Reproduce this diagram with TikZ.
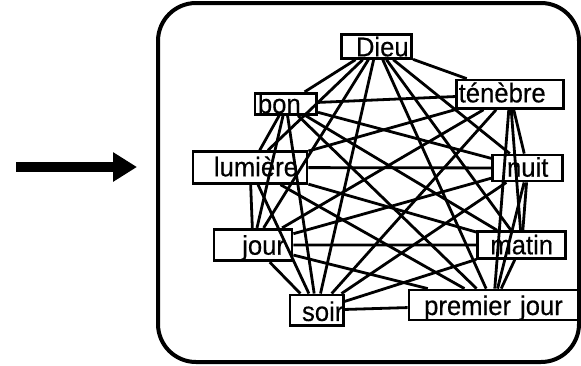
\documentclass[tikz,border=0pt]{standalone}
\usepackage{fontspec}
\setmainfont{Liberation Sans}[FakeStretch=0.95, FakeBold=0.4]
\usetikzlibrary{arrows.meta}

\begin{document}
\begin{tikzpicture}[x=1pt, y=-1pt, font=\fontsize{27}{30}\selectfont,
  wordbox/.style = {draw, line width=2.8pt, inner ysep=0pt},
  framebox/.style = {draw, line width=4pt, rounded corners=38pt},
  edge/.style = {line width=2.8pt},
  bigarrow/.style = {-{Triangle[length=24pt, width=28pt]}, line width=10.5pt}
]
\useasboundingbox (0,0) rectangle (581,365);
\node[framebox, minimum width=421pt, minimum height=359pt] (frame) at (368.5,182.5) {};
\coordinate (tail) at (16,167);
\coordinate (tip) at (137,167);
\draw[bigarrow] (tail) -- (tip);
% words
\node[wordbox, text width=64pt, inner xsep=3pt, text height=22pt, text depth=2pt, align=right] (dieu) at (376.7,46.3) {Dieu};
\node[wordbox, text width=102.6pt, inner xsep=2pt, text height=22.3pt, text depth=6pt, align=left] (tenebre) at (510,94.2) {ténèbre};
\node[wordbox, text width=55.7pt, inner xsep=3pt, text height=20pt, text depth=1pt, align=left] (bon) at (285.8,103.8) {bon};
\node[wordbox, text width=96pt, inner xsep=9pt, text height=24.6pt, text depth=7pt, align=right] (lumiere) at (250,167.5) {lumière};
\node[wordbox, text width=66pt, inner xsep=2pt, text height=21.7pt, text depth=4.3pt, align=center] (nuit) at (527.7,168) {nuit};
\node[wordbox, text width=64pt, inner xsep=7pt, text height=25.4pt, text depth=6pt, align=right] (jour) at (253,245) {jour};
\node[wordbox, text width=84pt, inner xsep=2pt, text height=22.6pt, text depth=4pt, align=center] (matin) at (521.7,245) {matin};
\node[wordbox, text width=53.3pt, inner xsep=0pt, text height=26pt, text depth=4.7pt, align=right] (soir) at (316.7,310.3) {soir};
\node[wordbox, text width=165pt, inner xsep=2pt, text height=25pt, text depth=5pt, align=center] (premier) at (493.5,305) {premier jour};
% every word linked to every other
\draw[edge] (dieu) -- (tenebre) (dieu) -- (bon) (dieu) -- (lumiere) (dieu) -- (nuit)
  (dieu) -- (jour) (dieu) -- (matin) (dieu) -- (soir) (dieu) -- (premier);
\draw[edge] (tenebre) -- (bon) (tenebre) -- (lumiere) (tenebre) -- (nuit) (tenebre) -- (jour)
  (tenebre) -- (matin) (tenebre) -- (soir) (tenebre) -- (premier);
\draw[edge] (bon) -- (lumiere) (bon) -- (nuit) (bon) -- (jour) (bon) -- (matin)
  (bon) -- (soir) (bon) -- (premier);
\draw[edge] (lumiere) -- (nuit) (lumiere) -- (jour) (lumiere) -- (matin) (lumiere) -- (soir)
  (lumiere) -- (premier);
\draw[edge] (nuit) -- (jour) (nuit) -- (matin) (nuit) -- (soir) (nuit) -- (premier);
\draw[edge] (jour) -- (matin) (jour) -- (soir) (jour) -- (premier);
\draw[edge] (matin) -- (soir) (matin) -- (premier);
\draw[edge] (soir) -- (premier);
\end{tikzpicture}
\end{document}
